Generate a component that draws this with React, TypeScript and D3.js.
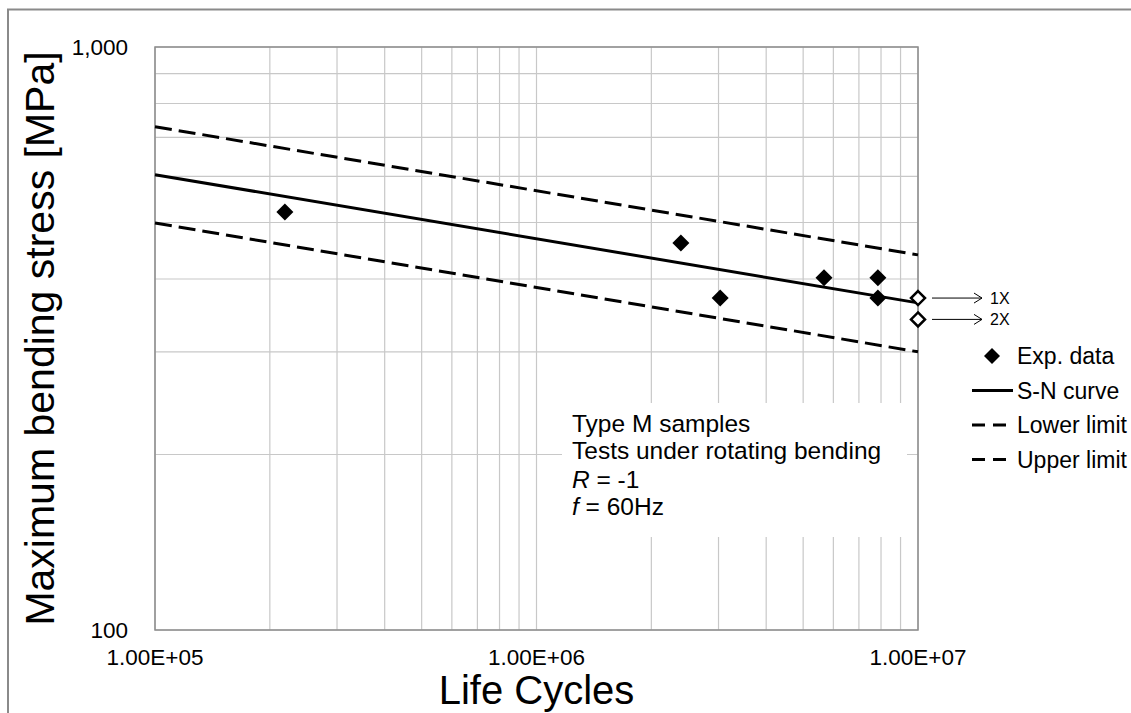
import React from 'react';
import * as d3 from 'd3';

// experimental points (cycles to failure, stress in MPa)
const expCycles = [2.19e5, 2.39e6, 3.03e6, 5.67e6, 7.85e6, 7.85e6];
const expStress = [521, 461, 371, 402, 402, 371];

// run-outs (hollow diamonds) with their labels
const runoutCycles = [1e7, 1e7];
const runoutStress = [371, 341];
const runoutLabels = ['1X', '2X'];

// fitted curve and scatter band, end points
const lineCycles = [1e5, 1e7];
const snStress = [604, 364];
const lowerStress = [499, 300];
const upperStress = [730, 440];

const xTickValues = [1e5, 1e6, 1e7];
const xTickLabels = ['1.00E+05', '1.00E+06', '1.00E+07'];
const yTickValues = [100, 1000];
const yTickLabels = ['100', '1,000'];

const noteLines = ['Type M samples', 'Tests under rotating bending'];

const legendItems = ['Exp. data', 'S-N curve', 'Lower limit', 'Upper limit'];

const FONT = '"Liberation Sans", Arial, sans-serif';

function App() {
  const width = 1131;
  const height = 713;
  const plot = { left: 155, right: 918, top: 47, bottom: 630 };

  const x = d3.scaleLog().domain([1e5, 1e7]).range([plot.left, plot.right]);
  const y = d3.scaleLog().domain([100, 1000]).range([plot.bottom, plot.top]);

  // minor grid: 1..9 in each decade
  const xGrid: number[] = [];
  for (let d = 1e5; d < 1e7; d *= 10) {
    for (let m = 1; m < 10; m++) xGrid.push(d * m);
  }
  xGrid.push(1e7);
  const yGrid: number[] = [];
  for (let m = 1; m <= 10; m++) yGrid.push(100 * m);

  const line = d3
    .line<number>()
    .x((_, i) => x(lineCycles[i]))
    .y((d) => y(d));

  const diamond = (cx: number, cy: number, r: number) =>
    `M${cx},${cy - r}L${cx + r},${cy}L${cx},${cy + r}L${cx - r},${cy}Z`;

  const box = { x0: 562, x1: 907, y0: 403, y1: 537 };

  const legX = 972;
  const legTextX = 1017;
  const legBase = 364;
  const legStep = 34.5;

  return (
    <svg
      width={width}
      height={height}
      style={{ position: 'absolute', left: 0, top: 0, display: 'block', background: '#fff' }}
      fontFamily={FONT}
    >
      {/* outer chart border */}
      <rect x={8} y={9.5} width={1140} height={760} fill="none" stroke="#8a8a8a" strokeWidth={2} />

      {/* grid */}
      {xGrid.map((v, i) => (
        <line key={'gx' + i} x1={x(v)} x2={x(v)} y1={plot.top} y2={plot.bottom} stroke="#c8c8c8" strokeWidth={1.2} />
      ))}
      {yGrid.map((v, i) => (
        <line key={'gy' + i} x1={plot.left} x2={plot.right} y1={y(v)} y2={y(v)} stroke="#c8c8c8" strokeWidth={1.2} />
      ))}
      <rect
        x={plot.left}
        y={plot.top}
        width={plot.right - plot.left}
        height={plot.bottom - plot.top}
        fill="none"
        stroke="#8c8c8c"
        strokeWidth={1.5}
      />

      {/* note box */}
      <rect x={box.x0} y={box.y0} width={box.x1 - box.x0} height={box.y1 - box.y0} fill="#fff" />
      <g fontSize={24.5} fill="#000">
        <text x={572} y={432}>{noteLines[0]}</text>
        <text x={572} y={459}>{noteLines[1]}</text>
        <text x={572} y={488}>
          <tspan fontStyle="italic">R</tspan> = -1
        </text>
        <text x={572} y={515}>
          <tspan fontStyle="italic">f</tspan> = 60Hz
        </text>
      </g>

      {/* band and curve */}
      <path d={line(upperStress) || ''} fill="none" stroke="#000" strokeWidth={3} strokeDasharray="17 7" />
      <path d={line(lowerStress) || ''} fill="none" stroke="#000" strokeWidth={3} strokeDasharray="17 7" />
      <path d={line(snStress) || ''} fill="none" stroke="#000" strokeWidth={3} />

      {/* experimental points */}
      {expCycles.map((c, i) => (
        <path key={'e' + i} d={diamond(x(c), y(expStress[i]), 8.5)} fill="#000" />
      ))}

      {/* run-outs */}
      {runoutCycles.map((c, i) => {
        const cx = x(c);
        const cy = y(runoutStress[i]);
        return (
          <g key={'r' + i}>
            <path d={diamond(cx, cy, 7)} fill="#fff" stroke="#000" strokeWidth={2.5} />
            <line x1={cx + 14} x2={cx + 64} y1={cy} y2={cy} stroke="#000" strokeWidth={1} />
            <path
              d={`M${cx + 56},${cy - 5}L${cx + 64},${cy}L${cx + 56},${cy + 5}`}
              fill="none"
              stroke="#000"
              strokeWidth={1}
            />
            <text x={cx + 72} y={cy + 6} fontSize={16}>
              {runoutLabels[i]}
            </text>
          </g>
        );
      })}

      {/* axes labels */}
      {yTickValues.map((v, i) => (
        <text key={'yt' + i} x={128} y={y(v) + 8} fontSize={22.5} textAnchor="end">
          {yTickLabels[i]}
        </text>
      ))}
      {xTickValues.map((v, i) => (
        <text key={'xt' + i} x={x(v)} y={665} fontSize={22.5} textAnchor="middle">
          {xTickLabels[i]}
        </text>
      ))}
      <text x={(plot.left + plot.right) / 2} y={704} fontSize={40} textAnchor="middle">
        Life Cycles
      </text>
      <text
        transform={`translate(54, ${(plot.top + plot.bottom) / 2}) rotate(-90)`}
        fontSize={41}
        textAnchor="middle"
      >
        Maximum bending stress [MPa]
      </text>

      {/* legend */}
      {legendItems.map((name, i) => {
        const base = legBase + i * legStep;
        const cy = base - 8;
        let sample: React.ReactNode;
        if (i === 0) sample = <path d={diamond(992, cy, 8)} fill="#000" />;
        else if (i === 1) sample = <line x1={legX} x2={legX + 41} y1={cy} y2={cy} stroke="#000" strokeWidth={3} />;
        else
          sample = (
            <line x1={legX} x2={legX + 41} y1={cy} y2={cy} stroke="#000" strokeWidth={3} strokeDasharray="13 8" />
          );
        return (
          <g key={'l' + i}>
            {sample}
            <text x={legTextX} y={base} fontSize={23}>
              {name}
            </text>
          </g>
        );
      })}
    </svg>
  );
}

export default App;
